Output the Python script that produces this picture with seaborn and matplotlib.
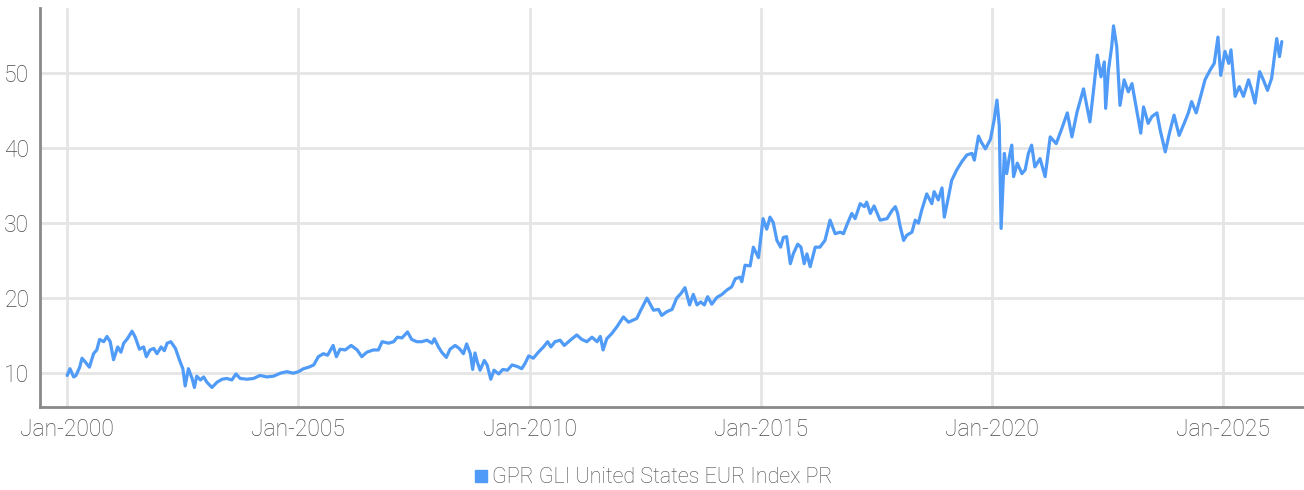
import numpy as np
import pandas as pd
import matplotlib.pyplot as plt
import matplotlib.dates as mdates
from matplotlib.lines import Line2D
import seaborn as sns

# Datos (año decimal, valor del índice)
anios = [
    2000.00, 2000.06, 2000.14, 2000.19, 2000.27, 2000.32, 2000.39, 2000.48, 2000.57, 2000.64,
    2000.70, 2000.79, 2000.86, 2000.93, 2001.00, 2001.09, 2001.16, 2001.22, 2001.30, 2001.40,
    2001.47, 2001.56, 2001.65, 2001.71, 2001.79, 2001.87, 2001.94, 2002.03, 2002.10, 2002.16,
    2002.24, 2002.34, 2002.43, 2002.50, 2002.55, 2002.62, 2002.70, 2002.75, 2002.80, 2002.88,
    2002.95, 2003.02, 2003.13, 2003.24, 2003.35, 2003.45, 2003.56, 2003.65, 2003.74, 2003.89,
    2004.03, 2004.17, 2004.32, 2004.46, 2004.61, 2004.75, 2004.89, 2005.00, 2005.11, 2005.22,
    2005.33, 2005.43, 2005.54, 2005.63, 2005.75, 2005.82, 2005.90, 2006.01, 2006.14, 2006.27,
    2006.37, 2006.48, 2006.62, 2006.73, 2006.81, 2006.95, 2007.06, 2007.14, 2007.24, 2007.36,
    2007.45, 2007.56, 2007.67, 2007.78, 2007.89, 2007.94, 2008.03, 2008.10, 2008.20, 2008.28,
    2008.39, 2008.48, 2008.57, 2008.64, 2008.72, 2008.77, 2008.82, 2008.87, 2008.93, 2009.02,
    2009.08, 2009.16, 2009.23, 2009.33, 2009.42, 2009.52, 2009.62, 2009.73, 2009.83, 2009.90,
    2009.98, 2010.08, 2010.19, 2010.30, 2010.39, 2010.46, 2010.55, 2010.66, 2010.75, 2010.88,
    2011.02, 2011.13, 2011.24, 2011.35, 2011.46, 2011.53, 2011.59, 2011.67, 2011.78, 2011.89,
    2012.03, 2012.14, 2012.32, 2012.39, 2012.54, 2012.68, 2012.79, 2012.86, 2012.97, 2013.08,
    2013.18, 2013.27, 2013.36, 2013.46, 2013.54, 2013.62, 2013.70, 2013.78, 2013.85, 2013.94,
    2014.05, 2014.16, 2014.27, 2014.37, 2014.45, 2014.55, 2014.59, 2014.66, 2014.77, 2014.84,
    2014.92, 2014.95, 2014.99, 2015.05, 2015.13, 2015.20, 2015.27, 2015.35, 2015.43, 2015.49,
    2015.56, 2015.64, 2015.71, 2015.80, 2015.87, 2015.94, 2016.00, 2016.07, 2016.18, 2016.28,
    2016.39, 2016.50, 2016.61, 2016.72, 2016.79, 2016.88, 2016.97, 2017.04, 2017.15, 2017.24,
    2017.29, 2017.37, 2017.45, 2017.58, 2017.73, 2017.84, 2017.91, 2017.96, 2018.01, 2018.09,
    2018.16, 2018.27, 2018.34, 2018.41, 2018.48, 2018.59, 2018.70, 2018.75, 2018.84, 2018.92,
    2018.97, 2019.06, 2019.13, 2019.24, 2019.35, 2019.46, 2019.57, 2019.62, 2019.71, 2019.77,
    2019.86, 2019.97, 2020.05, 2020.11, 2020.16, 2020.20, 2020.27, 2020.32, 2020.38, 2020.43,
    2020.47, 2020.55, 2020.65, 2020.72, 2020.79, 2020.86, 2020.93, 2021.04, 2021.15, 2021.26,
    2021.39, 2021.51, 2021.63, 2021.73, 2021.84, 2021.98, 2022.12, 2022.21, 2022.28, 2022.36,
    2022.43, 2022.46, 2022.52, 2022.59, 2022.63, 2022.70, 2022.77, 2022.86, 2022.95, 2023.03,
    2023.13, 2023.22, 2023.28, 2023.38, 2023.46, 2023.57, 2023.64, 2023.75, 2023.84, 2023.94,
    2024.05, 2024.16, 2024.25, 2024.32, 2024.42, 2024.54, 2024.61, 2024.72, 2024.81, 2024.89,
    2024.95, 2025.04, 2025.12, 2025.17, 2025.26, 2025.35, 2025.44, 2025.55, 2025.62, 2025.69,
    2025.79, 2025.87, 2025.96, 2026.05, 2026.16, 2026.22, 2026.27,
]
valores = [
    9.7, 10.6, 9.5, 9.7, 10.8, 12.0, 11.5, 10.8, 12.6, 13.1,
    14.5, 14.2, 14.9, 14.2, 11.8, 13.5, 12.8, 14.0, 14.6, 15.6,
    14.8, 13.2, 13.5, 12.2, 13.1, 13.3, 12.6, 13.5, 13.0, 14.0,
    14.2, 13.3, 11.7, 10.6, 8.3, 10.6, 9.3, 8.1, 9.6, 9.1,
    9.5, 8.8, 8.1, 8.8, 9.2, 9.3, 9.1, 9.9, 9.3, 9.2,
    9.3, 9.7, 9.5, 9.6, 10.0, 10.2, 10.0, 10.2, 10.6, 10.8,
    11.1, 12.2, 12.6, 12.4, 13.7, 12.2, 13.2, 13.1, 13.7, 13.1,
    12.2, 12.8, 13.1, 13.1, 14.2, 14.0, 14.2, 14.8, 14.7, 15.5,
    14.5, 14.2, 14.2, 14.4, 14.0, 14.6, 13.5, 12.8, 12.1, 13.2,
    13.7, 13.3, 12.6, 13.9, 12.6, 10.5, 12.7, 11.5, 10.4, 11.7,
    11.1, 9.2, 10.4, 9.9, 10.5, 10.4, 11.1, 10.9, 10.6, 11.3,
    12.3, 12.0, 12.8, 13.5, 14.2, 13.5, 14.2, 14.4, 13.7, 14.4,
    15.1, 14.5, 14.2, 14.8, 14.2, 14.9, 13.1, 14.6, 15.3, 16.2,
    17.5, 16.8, 17.3, 18.2, 20.0, 18.4, 18.5, 17.7, 18.2, 18.5,
    20.0, 20.6, 21.4, 19.1, 20.5, 19.1, 19.5, 19.1, 20.2, 19.2,
    20.1, 20.5, 21.1, 21.5, 22.6, 22.8, 22.2, 24.4, 24.3, 26.8,
    25.8, 25.4, 27.5, 30.6, 29.2, 30.8, 30.1, 27.7, 26.8, 28.1,
    28.2, 24.6, 26.0, 27.2, 26.8, 24.6, 25.9, 24.2, 26.8, 26.8,
    27.7, 30.4, 28.6, 28.8, 28.6, 30.0, 31.3, 30.6, 32.6, 32.2,
    32.8, 31.3, 32.3, 30.4, 30.6, 31.7, 32.2, 31.3, 29.7, 27.7,
    28.4, 28.8, 30.4, 30.0, 31.7, 33.9, 32.6, 34.2, 33.1, 34.7,
    30.8, 33.5, 35.7, 37.1, 38.2, 39.1, 39.3, 38.4, 41.6, 40.8,
    39.9, 41.2, 43.8, 46.4, 43.0, 29.3, 39.3, 36.6, 38.9, 40.4,
    36.2, 38.0, 36.6, 37.1, 39.3, 40.4, 37.5, 38.6, 36.2, 41.5,
    40.6, 42.6, 44.7, 41.5, 44.8, 47.9, 43.5, 48.4, 52.4, 49.5,
    51.5, 45.3, 50.4, 53.5, 56.3, 53.5, 45.7, 49.1, 47.5, 48.6,
    45.1, 42.0, 45.5, 43.3, 44.2, 44.7, 42.4, 39.5, 42.0, 44.4,
    41.7, 43.3, 44.7, 46.2, 44.7, 47.5, 49.1, 50.4, 51.3, 54.8,
    49.7, 52.9, 51.3, 53.1, 46.9, 48.2, 46.9, 49.1, 47.7, 46.0,
    50.2, 49.1, 47.7, 49.3, 54.6, 52.2, 54.2,
]
serie = "GPR GLI United States EUR Index PR"
anios_ticks = [2000, 2005, 2010, 2015, 2020, 2025]
y_ticks = [10, 20, 30, 40, 50]


def a_fecha(a):
    base = pd.Timestamp(year=int(a), month=1, day=1)
    return base + pd.Timedelta(days=(a - int(a)) * 365.25)


df = pd.DataFrame({"fecha": [a_fecha(a) for a in anios], "valor": valores})

# Estilo visual
sns.set_theme(style="white")
plt.rcParams["font.family"] = ["Roboto", "DejaVu Sans"]
plt.rcParams["font.weight"] = "light"
azul = "#4f9bf7"
gris = "#4a4a4a"

fig = plt.figure(figsize=(13.04, 4.9), dpi=100)
ax = fig.add_axes([0.031, 0.169, 0.969, 0.815])
sns.lineplot(data=df, x="fecha", y="valor", color=azul, linewidth=2.3, ax=ax)

ax.set_xlim(a_fecha(1999.42), a_fecha(2026.75))
ax.set_ylim(5.47, 58.7)
ax.set_xticks([pd.Timestamp(year=a, month=1, day=1) for a in anios_ticks])
ax.xaxis.set_major_formatter(mdates.DateFormatter("%b-%Y"))
ax.set_yticks(y_ticks)
ax.grid(True, color="#e5e5e5", linewidth=2.0)
ax.set_axisbelow(True)
ax.tick_params(length=0, labelsize=16.5, labelcolor=gris, pad=8)
ax.set_xlabel("")
ax.set_ylabel("")
for lado in ["top", "right"]:
    ax.spines[lado].set_visible(False)
for lado in ["left", "bottom"]:
    ax.spines[lado].set_color("#8a8a8a")
    ax.spines[lado].set_linewidth(2.0)

handle = Line2D([], [], marker="s", linestyle="", color=azul, markersize=8)
fig.legend([handle], [serie], loc="center", bbox_to_anchor=(0.5, 0.025), frameon=False,
           fontsize=15.5, labelcolor=gris, handletextpad=0.1, handlelength=0.8)

fig.savefig("out.png", dpi=100)
